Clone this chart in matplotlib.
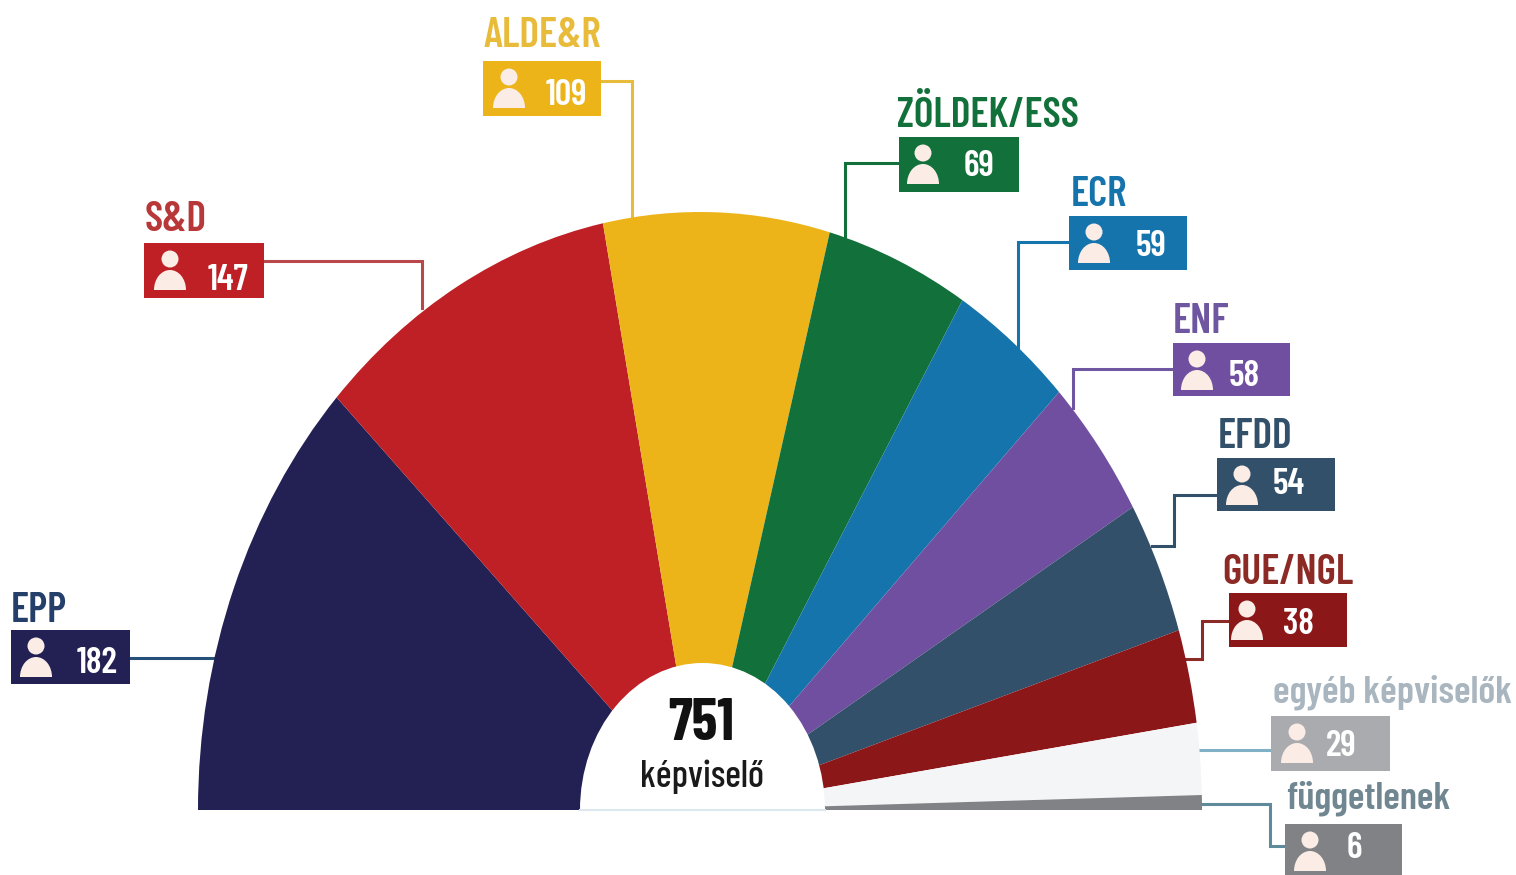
import matplotlib
matplotlib.use('Agg')
import matplotlib.pyplot as plt
from matplotlib.patches import Wedge, Circle, Rectangle, Ellipse
from matplotlib.transforms import Affine2D

plt.rcParams['font.family'] = ['Barlow Condensed', 'Liberation Sans', 'DejaVu Sans']

groups = ['EPP', 'S&D', 'ALDE&R', 'ZÖLDEK/ESS', 'ECR', 'ENF', 'EFDD', 'GUE/NGL', 'egyéb képviselők', 'függetlenek']
seats = [182, 147, 109, 69, 59, 58, 54, 38, 29, 6]
total_label = '751'
total_unit = 'képviselő'

wedge_colors = ['#232054', '#BE2025', '#EDB41A', '#12703A', '#1574AC', '#714FA0', '#33506A', '#8C1719', '#F3F5F7', '#808285']
box_colors = ['#232054', '#BE2025', '#EDB41A', '#12703A', '#1574AC', '#714FA0', '#33506A', '#8C1719', '#A9ABAF', '#808285']
name_colors = ['#24406A', '#B8383A', '#E8BC3A', '#12703A', '#1574AC', '#6F56A0', '#33506A', '#8C2A25', '#A9B6BF', '#708791']
line_colors = ['#24507A', '#B8484A', '#E8BC3A', '#12703A', '#1574AC', '#6F56A0', '#33506A', '#8C2A25', '#7FB0C5', '#5E8A9C']

# layout in pixels: box left, top, right, bottom
boxes = [(11, 630, 130, 684), (144, 243, 264, 298), (483, 61, 601, 116), (899, 137, 1019, 192),
         (1069, 216, 1187, 270), (1173, 343, 1290, 396), (1217, 458, 1335, 511), (1229, 593, 1347, 647),
         (1271, 716, 1390, 771), (1285, 824, 1402, 878)]
name_pos = [(11, 622), (145, 231), (484, 47), (897, 127), (1071, 206), (1173, 333), (1218, 448), (1222, 584), (1273, 703), (1286, 809)]
name_size = [30, 30, 30, 30, 30, 30, 30, 30, 28, 28]
icon_x = [36, 170, 509, 923, 1094, 1197, 1242, 1247, 1297, 1310]
value_x = [97, 228, 566, 979, 1151, 1244, 1289, 1298, 1341, 1354]
value_y = [673, 290, 105, 176, 256, 386, 494, 634, 756, 858]
leaders = [
    [(130, 658), (213, 658)],
    [(264, 261), (422, 261), (422, 308)],
    [(601, 81), (632, 81), (632, 218)],
    [(899, 163), (845, 163), (845, 238)],
    [(1069, 242), (1018, 242), (1018, 347)],
    [(1173, 369), (1073, 369), (1073, 408)],
    [(1217, 495), (1174, 495), (1174, 546), (1152, 546)],
    [(1229, 621), (1202, 621), (1202, 659), (1186, 659)],
    [(1271, 750), (1200, 750)],
    [(1202, 804), (1270, 804), (1270, 846), (1285, 846)],
]

fig = plt.figure(figsize=(15.16, 8.75), dpi=100)
ax = fig.add_axes([0, 0, 1, 1])
ax.set_xlim(0, 1516)
ax.set_ylim(875, 0)
ax.axis('off')

# the half circle is stretched upward in the original
unit = Affine2D().scale(502, -598).translate(700, 810) + ax.transData
angle = 180.0
n = sum(seats)
for s, c in zip(seats, wedge_colors):
    step = 180.0 * s / n
    ax.add_patch(Wedge((0, 0), 1, angle - step, angle, transform=unit, facecolor=c, edgecolor='none', zorder=2))
    angle -= step

ax.add_patch(Ellipse((702.5, 810), 245, 294, facecolor='white', edgecolor='none', zorder=3))
ax.add_patch(Rectangle((570, 810), 270, 20, facecolor='white', edgecolor='none', zorder=3))
ax.plot([580, 825], [810, 810], color='#DCE8EE', lw=1.5, zorder=4)

for i in range(len(groups)):
    pts = leaders[i]
    ax.plot([p[0] for p in pts], [p[1] for p in pts], color=line_colors[i], lw=2.2, zorder=1,
            solid_joinstyle='miter')
    x0, y0, x1, y1 = boxes[i]
    ax.add_patch(Rectangle((x0, y0), x1 - x0, y1 - y0, facecolor=box_colors[i], edgecolor='none', zorder=4))
    # person icon: head and a flat bottomed body
    cx = icon_x[i]
    ax.add_patch(Circle((cx, y0 + 16), 8.5, facecolor='#FBEDE6', edgecolor='none', zorder=5))
    body = Affine2D().scale(16, -20).translate(cx, y0 + 47) + ax.transData
    ax.add_patch(Wedge((0, 0), 1, 0, 180, transform=body, facecolor='#FBEDE6', edgecolor='none', zorder=5))
    ax.text(value_x[i], value_y[i], str(seats[i]), color='white', fontsize=26, fontweight='semibold',
            ha='center', va='baseline', zorder=6)
    ax.text(name_pos[i][0], name_pos[i][1], groups[i], color=name_colors[i], fontsize=name_size[i],
            fontweight='semibold', ha='left', va='baseline', zorder=6)

ax.text(701, 740, total_label, color='#111111', fontsize=42, fontweight='bold', ha='center', va='baseline', zorder=6)
ax.text(702, 787, total_unit, color='#1A1A1A', fontsize=27, fontweight='medium', ha='center', va='baseline', zorder=6)

fig.savefig('out.png', dpi=100)
